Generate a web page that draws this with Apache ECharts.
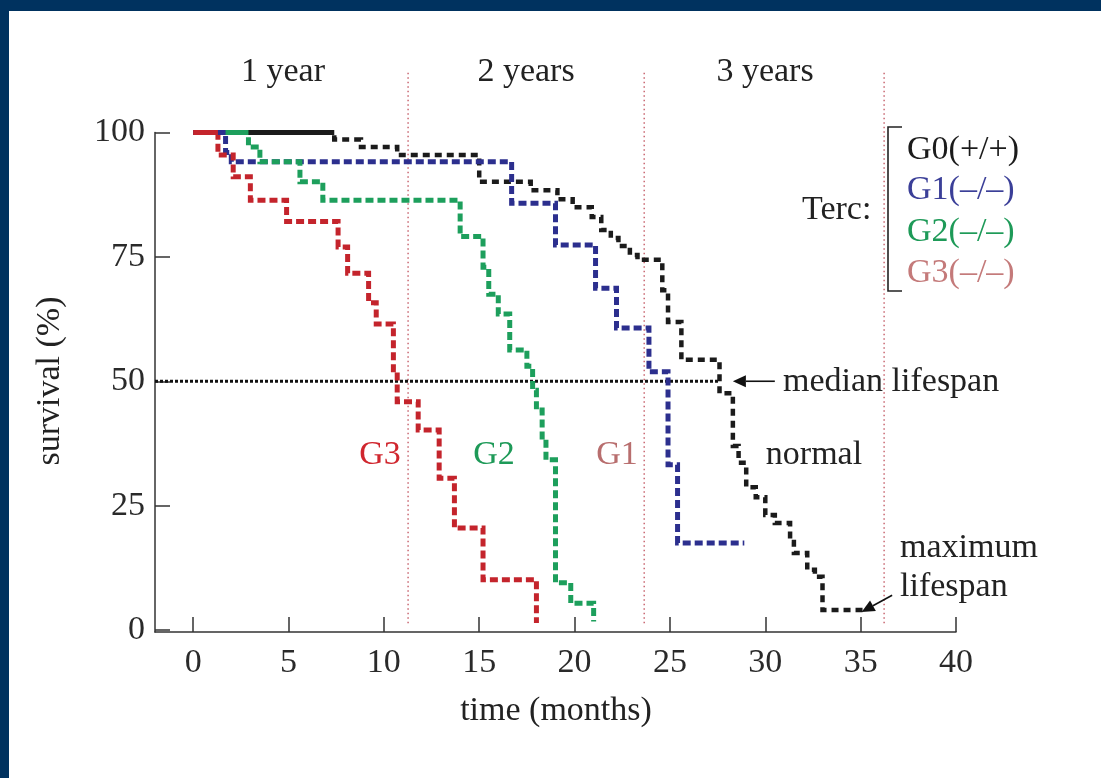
<!DOCTYPE html>
<html>
<head>
<meta charset="utf-8">
<script src="https://cdn.jsdelivr.net/npm/echarts@6/dist/echarts.min.js"></script>
<style>
  html, body { margin: 0; padding: 0; background: #ffffff; }
  #chart { width: 1101px; height: 778px; }
</style>
</head>
<body>
<div id="chart"></div>
<script>
// Axis ticks
const monthTicks = [0, 5, 10, 15, 20, 25, 30, 35, 40];
const survivalTicks = [0, 25, 50, 75, 100];

// Kaplan–Meier survival, [month of death, survival % afterwards]; last point closes the curve
const g0Normal = [[0,100],[7.4,98.6],[8.8,97.1],[10.7,95.5],[15.0,90.1],[17.7,88.4],[19.1,86.6],[19.9,85.0],
  [20.9,83.0],[21.4,80.4],[21.9,78.8],[22.3,77.2],[22.9,75.4],[23.3,74.4],[24.6,68.3],[24.9,61.9],[25.6,54.3],
  [27.6,47.6],[28.3,37.0],[28.6,33.6],[29.0,28.7],[29.5,26.7],[30.0,23.1],[30.5,21.5],[31.3,17.7],[31.5,15.5],
  [32.2,12.1],[32.6,10.7],[33.0,4.0],[35.3,4.0]];
const g1 = [[0,100],[1.7,96.0],[2.0,94.1],[16.7,85.8],[19.0,77.4],[21.1,68.7],[22.2,60.7],[23.9,51.9],
  [24.9,33.2],[25.4,17.5],[28.9,17.5]];
const g2 = [[0,100],[2.9,97.1],[3.5,94.1],[5.6,90.1],[6.8,86.4],[14.0,79.1],[15.2,72.9],[15.5,67.5],[16.0,63.5],
  [16.6,56.3],[17.5,53.0],[17.8,48.2],[18.0,44.2],[18.3,38.8],[18.5,34.2],[19.0,9.5],[19.8,5.4],[21.0,1.7]];
const g3 = [[0,100],[1.3,95.5],[2.1,91.1],[3.0,86.4],[4.9,82.1],[7.6,77.0],[8.1,71.7],[9.2,65.8],[9.6,61.5],
  [10.5,52.3],[10.7,45.9],[11.8,40.2],[12.9,30.5],[13.7,20.5],[15.2,10.1],[18.0,1.4]];

// Annotation geometry (data units)
const medianLevel = 50;
const medianEnd = 27.6;
const yearBounds = [11.27, 23.65, 36.23];
const medianArrow = { from: [30.5, 50], to: [28.3, 50] };
const maxArrow = { from: [36.65, 7.0], to: [35.05, 3.6] };

const FONT = '"Liberation Serif", "DejaVu Serif", serif';
const FS = 34;
const colors = { g0: '#1b1b1b', g1: '#2c2f8e', g2: '#1d9f5c', g3: '#c4242c' };

function stepSeries(name, data, color, dash, width, z) {
  return {
    name, type: 'line', step: 'end', data, showSymbol: false, z,
    lineStyle: { color, width, type: dash, cap: 'butt', join: 'miter' },
    silent: true, animation: false
  };
}
// solid first plateau of a curve (100% until first death)
function plateau(name, data, color, z) {
  return {
    name, type: 'line', data: [data[0], [data[1][0], data[0][1]]], showSymbol: false, z,
    lineStyle: { color, width: 5, type: 'solid', cap: 'butt' }, silent: true, animation: false
  };
}

const chart = echarts.init(document.getElementById('chart'), null, { renderer: 'canvas' });

chart.setOption({
  backgroundColor: '#ffffff',
  animation: false,
  grid: { left: 155, right: 145, top: 132.5, bottom: 146, containLabel: false },
  xAxis: {
    type: 'value', min: -2, max: 40,
    axisLine: { show: true, onZero: false, lineStyle: { color: '#333', width: 1.5 } },
    axisTick: { show: true, inside: true, length: 15, customValues: monthTicks, lineStyle: { color: '#333', width: 1.5 } },
    axisLabel: { customValues: monthTicks, fontFamily: FONT, fontSize: FS, color: '#2a2a2a', margin: 14 },
    splitLine: { show: false }
  },
  yAxis: {
    type: 'value', min: -0.4, max: 100,
    axisLine: { show: true, onZero: false, lineStyle: { color: '#333', width: 1.5 } },
    axisTick: { show: true, inside: true, length: 15, customValues: survivalTicks, lineStyle: { color: '#333', width: 1.5 } },
    axisLabel: { customValues: survivalTicks, fontFamily: FONT, fontSize: FS, color: '#2a2a2a', margin: 10, padding: [8, 0, 0, 0] },
    splitLine: { show: false }
  },
  series: [
    {
      name: 'median', type: 'line', data: [[-2, medianLevel], [medianEnd, medianLevel]], showSymbol: false, z: 1,
      lineStyle: { color: '#111', width: 3.2, type: [3, 2] }, silent: true, animation: false
    },
    stepSeries('G0(+/+)', g0Normal, colors.g0, [7, 5], 4.5, 2),
    stepSeries('G1(–/–)', g1, colors.g1, [8, 4], 5, 3),
    stepSeries('G2(–/–)', g2, colors.g2, [8, 4], 5, 4),
    stepSeries('G3(–/–)', g3, colors.g3, [8, 4], 5, 5),
    plateau('G0 start', g0Normal, colors.g0, 6),
    plateau('G2 start', g2, colors.g2, 7),
    plateau('G1 start', g1, colors.g1, 8),
    plateau('G3 start', g3, colors.g3, 9)
  ]
});

const px = (p) => chart.convertToPixel({ gridIndex: 0 }, p);

function arrow(from, to, headLen, headHalf) {
  const a = px(from), b = px(to);
  const dx = b[0] - a[0], dy = b[1] - a[1];
  const L = Math.hypot(dx, dy), ux = dx / L, uy = dy / L;
  const bx = b[0] - ux * headLen, by = b[1] - uy * headLen;
  return [
    { type: 'line', shape: { x1: a[0], y1: a[1], x2: bx, y2: by }, style: { stroke: '#111', lineWidth: 1.6 }, z: 20 },
    { type: 'polygon', shape: { points: [[b[0], b[1]], [bx - uy * headHalf, by + ux * headHalf], [bx + uy * headHalf, by - ux * headHalf]] },
      style: { fill: '#111' }, z: 20 }
  ];
}

function txt(text, x, y, color, opts) {
  return {
    type: 'text', x, y, z: 30,
    style: Object.assign({ text, fill: color, font: FS + 'px ' + FONT, textAlign: 'left', textVerticalAlign: 'middle' }, opts || {})
  };
}

const g = [];
// page border
g.push({ type: 'rect', shape: { x: 0, y: 0, width: 1101, height: 11 }, style: { fill: '#00325f' }, z: 50 });
g.push({ type: 'rect', shape: { x: 0, y: 0, width: 9, height: 778 }, style: { fill: '#00325f' }, z: 50 });

// year boundaries
yearBounds.forEach((m) => {
  const t = px([m, 112]), b = px([m, 1]);
  g.push({ type: 'line', shape: { x1: t[0], y1: t[1], x2: b[0], y2: b[1] },
    style: { stroke: '#c0505c', lineWidth: 1.3, lineDash: [1.5, 3] }, z: 0 });
});

g.push(...arrow(medianArrow.from, medianArrow.to, 13, 6));
g.push(...arrow(maxArrow.from, maxArrow.to, 13, 6));

// year headings
g.push(txt('1 year', 283, 72, '#222', { textAlign: 'center' }));
g.push(txt('2 years', 526, 72, '#222', { textAlign: 'center' }));
g.push(txt('3 years', 765, 72, '#222', { textAlign: 'center' }));

// curve labels
g.push(txt('G3', 380, 455, '#d0262e', { textAlign: 'center' }));
g.push(txt('G2', 494, 455, '#1e9a58', { textAlign: 'center' }));
g.push(txt('G1', 617, 455, '#b86e6e', { textAlign: 'center' }));
g.push(txt('normal', 814, 455, '#222', { textAlign: 'center' }));
g.push(txt('median lifespan', 783, 382, '#222'));
g.push(txt('maximum', 900, 548, '#222'));
g.push(txt('lifespan', 900, 587, '#222'));

// key
g.push(txt('Terc:', 802, 210, '#222'));
g.push({ type: 'polyline', shape: { points: [[902, 127], [888, 127], [888, 291], [902, 291]] },
  style: { stroke: '#222', lineWidth: 1.6, fill: null }, z: 30 });
g.push(txt('G0(+/+)', 907, 150, '#1b1b1b'));
g.push(txt('G1(–/–)', 907, 190, '#3b3f98'));
g.push(txt('G2(–/–)', 907, 232, '#1e9a58'));
g.push(txt('G3(–/–)', 907, 273, '#c47a7a'));

// axis titles
g.push(txt('time (months)', 556, 711, '#222', { textAlign: 'center' }));
g.push({ type: 'text', x: 50, y: 381, rotation: Math.PI / 2, z: 30,
  style: { text: 'survival (%)', fill: '#222', font: FS + 'px ' + FONT, textAlign: 'center', textVerticalAlign: 'middle' } });

chart.setOption({ graphic: g });
</script>
</body>
</html>
